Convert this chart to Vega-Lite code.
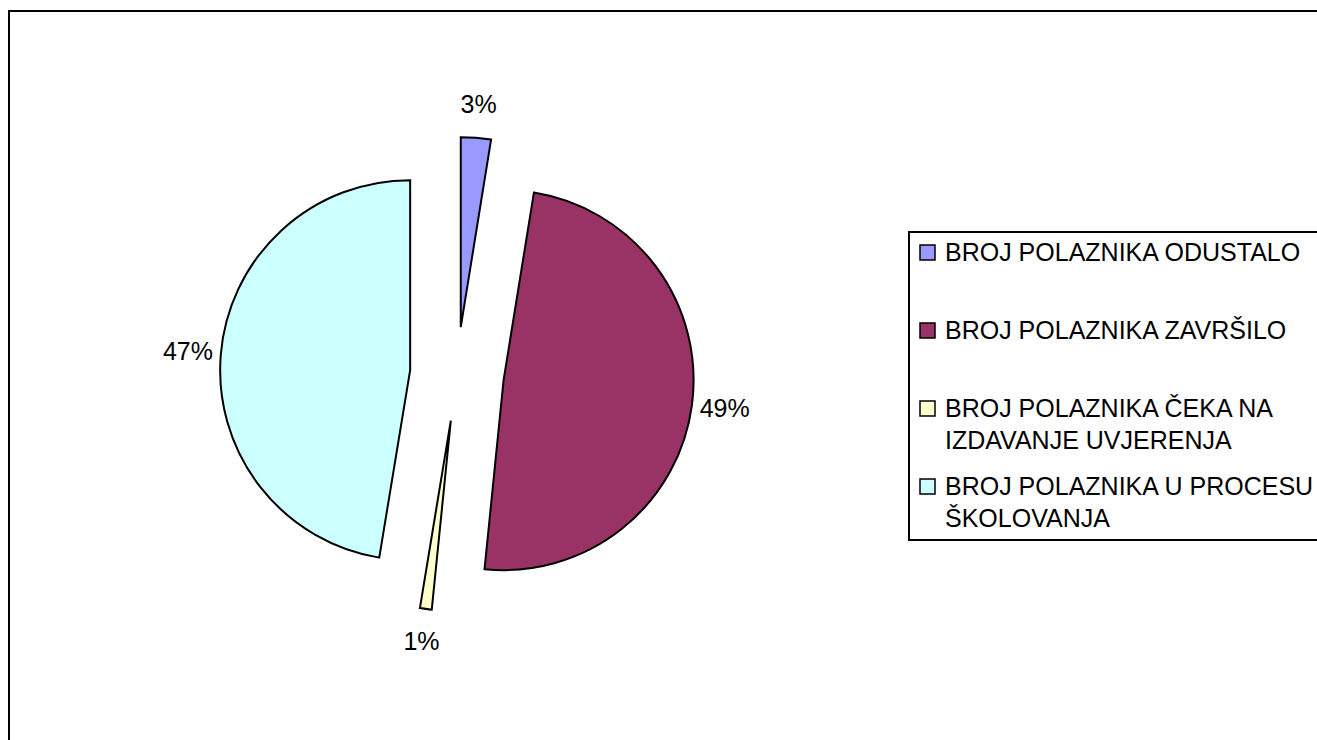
{
  "$schema": "https://vega.github.io/schema/vega-lite/v6.json",
  "width": 1314,
  "height": 740,
  "autosize": "none",
  "padding": {"left": 9, "top": 11, "right": 0, "bottom": 0},
  "background": "white",
  "view": {"stroke": "black", "strokeWidth": 2, "fill": "white"},
  "config": {
    "view": {"stroke": "black", "strokeWidth": 2},
    "font": "Liberation Sans",
    "legend": {"strokeWidth": 2},
    "style": {"guide-label": {"lineHeight": 32}}
  },
  "data": {
    "values": [
      {"category": "BROJ POLAZNIKA ODUSTALO", "value": 0.0255, "order": 1},
      {"category": "BROJ POLAZNIKA ZAVRŠILO", "value": 0.4905, "order": 2},
      {"category": "BROJ POLAZNIKA ČEKA NA IZDAVANJE UVJERENJA", "value": 0.01, "order": 3},
      {"category": "BROJ POLAZNIKA U PROCESU ŠKOLOVANJA", "value": 0.474, "order": 4}
    ]
  },
  "encoding": {
    "theta": {"field": "value", "type": "quantitative", "stack": true},
    "order": {"field": "order", "type": "quantitative"}
  },
  "layer": [
    {
      "mark": {
        "type": "arc",
        "outerRadius": 190,
        "stroke": "black",
        "strokeWidth": 2,
        "x": 448,
        "y": 363,
        "xOffset": {"expr": "47*sin(PI*(datum.value_start+datum.value_end))"},
        "yOffset": {"expr": "-47*cos(PI*(datum.value_start+datum.value_end))"}
      },
      "encoding": {
        "color": {
          "field": "category",
          "type": "nominal",
          "scale": {
            "domain": [
              "BROJ POLAZNIKA ODUSTALO",
              "BROJ POLAZNIKA ZAVRŠILO",
              "BROJ POLAZNIKA ČEKA NA IZDAVANJE UVJERENJA",
              "BROJ POLAZNIKA U PROCESU ŠKOLOVANJA"
            ],
            "range": ["#9999FF", "#993366", "#FFFFCC", "#CCFFFF"]
          },
          "legend": {
            "title": null,
            "orient": "none",
            "legendX": 900,
            "legendY": 221,
            "symbolType": "square",
            "symbolSize": 225,
            "symbolStrokeColor": "black",
            "symbolStrokeWidth": 1.5,
            "symbolOffset": -2,
            "strokeColor": "black",
            "fillColor": "white",
            "padding": 8,
            "labelFont": "Liberation Sans",
            "labelFontSize": 25,
            "labelColor": "black",
            "labelLimit": 600,
            "labelOffset": 5,
            "rowPadding": 20,
            "gridAlign": "all",
            "labelExpr": "datum.label == 'BROJ POLAZNIKA ČEKA NA IZDAVANJE UVJERENJA' ? ['BROJ POLAZNIKA ČEKA NA', 'IZDAVANJE UVJERENJA'] : datum.label == 'BROJ POLAZNIKA U PROCESU ŠKOLOVANJA' ? ['BROJ POLAZNIKA U PROCESU', 'ŠKOLOVANJA'] : datum.label"
          }
        }
      }
    },
    {
      "mark": {
        "type": "text",
        "radius": 270,
        "x": 448,
        "y": 363,
        "font": "Liberation Sans",
        "fontSize": 25,
        "color": "black",
        "align": "center",
        "baseline": "middle"
      },
      "encoding": {
        "detail": {"field": "category", "type": "nominal"},
        "text": {"field": "value", "type": "quantitative", "format": ".0%"}
      }
    }
  ]
}
